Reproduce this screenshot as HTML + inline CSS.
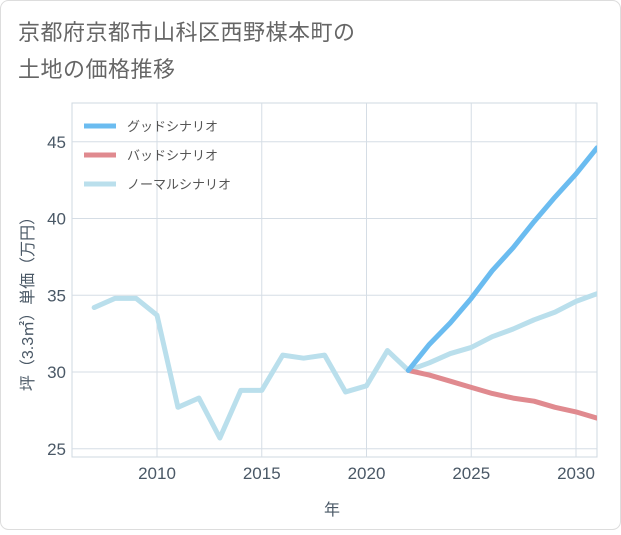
<!DOCTYPE html>
<html><head><meta charset="utf-8"><style>
body{margin:0;background:#fff;}
#wrap{position:relative;width:621px;height:530px;}
svg text{font-family:"Liberation Sans","Noto Sans CJK JP",sans-serif;}
</style></head><body>
<div id="wrap">
<svg id="chart" width="621" height="530">
<rect x="0.5" y="0.5" width="620" height="529" rx="8" fill="#fff" stroke="#ddd"/>
<text x="18" y="40" font-size="22" fill="#666" letter-spacing="0.5">京都府京都市山科区西野楳本町の</text>
<text x="18" y="77" font-size="22" fill="#666" letter-spacing="0.5">土地の価格推移</text>
<g id="grid"></g><g id="series"></g><g id="axes"></g>
<text x="332" y="515" font-size="16" fill="#4a5866" text-anchor="middle">年</text>
<text transform="translate(33,300) rotate(-90)" font-size="16" fill="#4a5866" text-anchor="middle">坪（3.3㎡）単価（万円）</text>
<g id="legend"></g>
</svg></div>
<script>
const years=[2007,2008,2009,2010,2011,2012,2013,2014,2015,2016,2017,2018,2019,2020,2021,2022];
const histValues=[34.2,34.8,34.8,33.7,27.7,28.3,25.7,28.8,28.8,31.1,30.9,31.1,28.7,29.1,31.4,30.1];
const futureYears=[2022,2023,2024,2025,2026,2027,2028,2029,2030,2031];
const goodValues=[30.1,31.8,33.2,34.8,36.6,38.1,39.8,41.4,42.9,44.6];
const badValues=[30.1,29.8,29.4,29.0,28.6,28.3,28.1,27.7,27.4,27.0];
const normalValues=[30.1,30.6,31.2,31.6,32.3,32.8,33.4,33.9,34.6,35.1];
const xTicks=[2010,2015,2020,2025,2030];
const yTicks=[25,30,35,40,45];
const legendLabels=["グッドシナリオ","バッドシナリオ","ノーマルシナリオ"];
const L=72,R=597,T=103,B=457;
const xs=y=>157+(y-2010)*20.95;
const ys=v=>372-(v-30)*15.35;
const NS="http://www.w3.org/2000/svg";
function mk(tag,attrs,parent){const e=document.createElementNS(NS,tag);for(const k in attrs)e.setAttribute(k,attrs[k]);document.getElementById(parent).appendChild(e);return e;}
mk('rect',{x:L,y:T,width:R-L,height:B-T,fill:'none',stroke:'#cfd8e0'},'grid');
xTicks.forEach(t=>{const l=mk('line',{x1:xs(t),x2:xs(t),y1:T,y2:B,stroke:'#d5dde5'},'grid');


const tx=mk('text',{x:xs(t),y:479,'font-size':17,fill:'#4a5866','text-anchor':'middle'},'axes');tx.textContent=t;

});
yTicks.forEach(t=>{const l=mk('line',{x1:L,x2:R,y1:ys(t),y2:ys(t),stroke:'#d5dde5'},'grid');


const tx=mk('text',{x:66,y:ys(t)+6,'font-size':17,fill:'#4a5866','text-anchor':'end'},'axes');tx.textContent=t;

});
function line(xv,yv,color,name){const p=mk('polyline',{points:xv.map((x,i)=>xs(x)+','+ys(yv[i])).join(' '),fill:'none',stroke:color,'stroke-width':5,'stroke-linejoin':'round','stroke-linecap':'round'},'series');

}
const clip=mk('clipPath',{id:'c'},'series');
const cr=document.createElementNS(NS,'rect');cr.setAttribute('x',L);cr.setAttribute('y',T);cr.setAttribute('width',R-L);cr.setAttribute('height',B-T);clip.appendChild(cr);
document.getElementById('series').setAttribute('clip-path','url(#c)');
line(years,histValues,'#badfec','history-line');
line(futureYears,normalValues,'#badfec','normal-scenario-line');
line(futureYears,badValues,'#e08a8f','bad-scenario-line');
line(futureYears,goodValues,'#6bbcf0','good-scenario-line');
const lc=['#6bbcf0','#e08a8f','#badfec'];
legendLabels.forEach((lab,i)=>{const y=126+i*29;
const l=mk('line',{x1:84,x2:116,y1:y,y2:y,stroke:lc[i],'stroke-width':5},'legend');


const t=mk('text',{x:127,y:y+5,'font-size':13,fill:'#555'},'legend');t.textContent=lab;

});
</script></body></html>
